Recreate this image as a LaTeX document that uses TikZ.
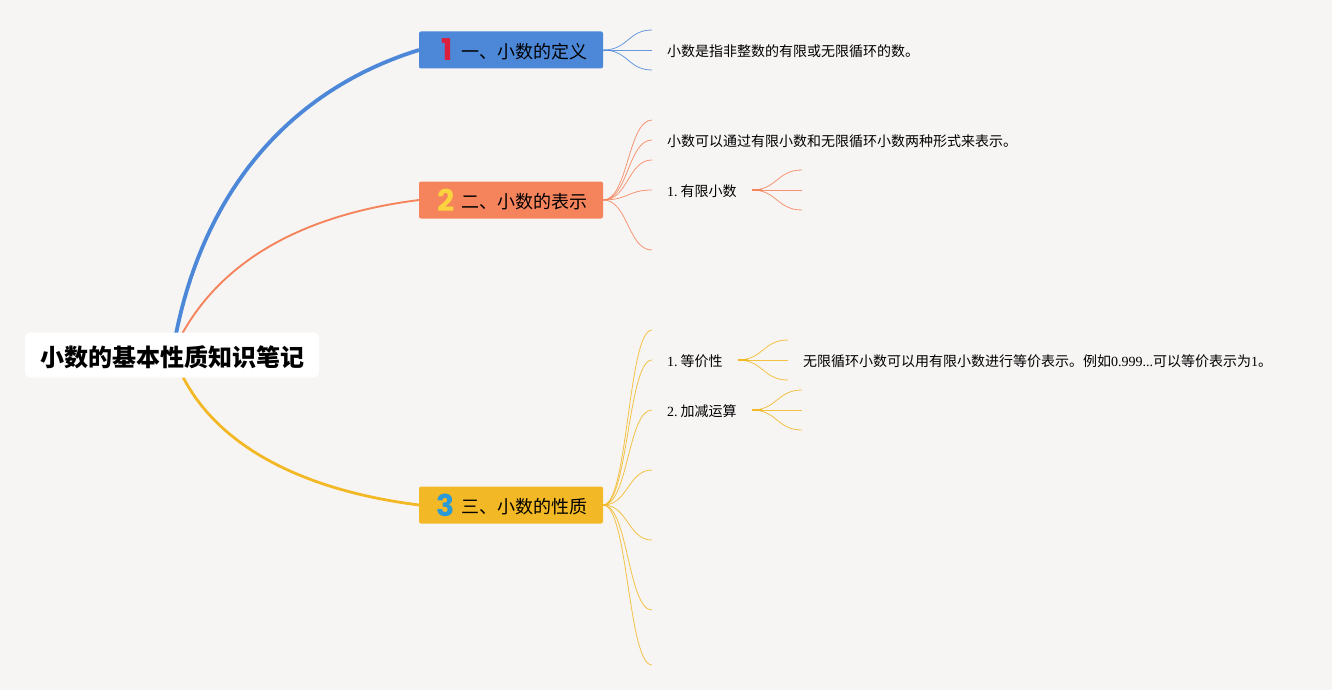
\documentclass[tikz,border=0pt]{standalone}
\usepackage{fontspec}
\setmainfont{Liberation Serif}
\newfontfamily\cjk{Noto Sans CJK SC}
\newfontfamily\numf{Poppins Bold}
\definecolor{bg}{HTML}{F7F5F4}
\definecolor{cblue}{HTML}{4D88D8}
\definecolor{corange}{HTML}{F5845D}
\definecolor{cyellow}{HTML}{F2B825}
\definecolor{bred}{HTML}{DC1F3C}
\definecolor{byellow}{HTML}{FAD33E}
\definecolor{bblue}{HTML}{2A9BD8}
\newcommand{\zh}[1]{{\cjk #1}}
\tikzset{
  x=1pt,y=-1pt,
  topic/.style={rounded corners=2pt,minimum width=184pt,minimum height=37pt,inner sep=0pt,text=black},
  toptext/.style={anchor=west,inner sep=0pt,font=\cjk\fontsize{18}{20}\selectfont},
  badge/.style={inner sep=0pt,font=\numf\fontsize{30}{30}\selectfont},
  leaf/.style={anchor=west,inner sep=0pt,text=black,font=\fontsize{14}{16}\selectfont},
  thick1/.style={line width=3.8pt},
  thick2/.style={line width=1.9pt},
  twig/.style={line width=0.8pt,opacity=0.85},
  stub/.style={line width=1.6pt},
}
\begin{document}
\begin{tikzpicture}
\useasboundingbox[fill=bg] (0,0) rectangle (1332,690);
\coordinate (rb) at (176,334);
\coordinate (ro) at (182,334);
\coordinate (ry) at (183,377);
\coordinate (t1w) at (419,50);
\coordinate (t2w) at (419,200);
\coordinate (t3w) at (419,505);
\draw[cblue,thick1] (rb) .. controls (205,190) and (290,90) .. (t1w);
\draw[corange,thick2] (ro) .. controls (222,262) and (300,215) .. (t2w);
\draw[cyellow,line width=2.8pt] (ry) .. controls (218,445) and (300,490) .. (t3w);
\node[fill=white,rounded corners=5pt,minimum width=294pt,minimum height=45pt,inner sep=0pt] (root) at (172,355) {};
\node[inner sep=0pt] (roott) at (172,357)
  {\cjk\bfseries\fontsize{24}{26}\selectfont 小数的基本性质知识笔记};
\node[topic,fill=cblue] (t1) at (511,50) {};
\node[topic,fill=corange] (t2) at (511,200) {};
\node[topic,fill=cyellow] (t3) at (511,505) {};
\node[toptext] (t1t) at (461,52) {一、小数的定义};
\node[toptext] (t2t) at (461,202) {二、小数的表示};
\node[toptext] (t3t) at (461,507) {三、小数的性质};
\node[badge,text=bred] (b1) at (447,50) {1};
\node[badge,text=byellow] (b2) at (446,200) {2};
\node[badge,text=bblue] (b3) at (446,505) {3};
\foreach \n/\y in {a1/30,a2/50,a3/70,b1e/120,b2e/140,b3e/160,b4e/190,b5e/250,c1e/330,c2e/360,c3e/410,c4e/470,c5e/540,c6e/610,c7e/665}
  \coordinate (\n) at (652,\y);
\begin{scope}[cblue,twig]
\foreach \e in {a1,a2,a3}
  \draw (t1.east) .. controls (628,50) and (628,50 |- \e) .. (\e);
\end{scope}
\node[leaf] (l1) at (667,51.5) {\zh{小数是指非整数的有限或无限循环的数。}};
\begin{scope}[corange,twig]
\foreach \e in {b1e,b2e,b3e,b4e,b5e}
  \draw (t2.east) .. controls (628,200) and (628,200 |- \e) .. (\e);
\end{scope}
\node[leaf] (l2) at (667,141.5) {\zh{小数可以通过有限小数和无限循环小数两种形式来表示。}};
\node[leaf] (l3) at (667,191.5) {1.\hspace{3pt}\zh{有限小数}};
\coordinate (s3) at (752,190);
\coordinate (s3m) at (762,190);
\foreach \n/\y in {d1/170,d2/190,d3/210} \coordinate (\n) at (802,\y);
\draw[corange,stub] (s3) -- (s3m);
\begin{scope}[corange,twig]
\foreach \e in {d1,d2,d3}
  \draw (s3) .. controls (777,190) and (777,190 |- \e) .. (\e);
\end{scope}
\begin{scope}[cyellow,twig]
\foreach \e in {c1e,c2e,c3e,c4e,c5e,c6e,c7e}
  \draw (t3.east) .. controls (628,505) and (628,505 |- \e) .. (\e);
\end{scope}
\node[leaf] (l4) at (667,361.5) {1.\hspace{3pt}\zh{等价性}};
\node[leaf] (l5) at (667,411.5) {2.\hspace{3pt}\zh{加减运算}};
\coordinate (s4) at (738,360);
\coordinate (s4m) at (748,360);
\foreach \n/\y in {e1/340,e2/360,e3/380} \coordinate (\n) at (788,\y);
\draw[cyellow,stub] (s4) -- (s4m);
\begin{scope}[cyellow,twig]
\foreach \e in {e1,e2,e3}
  \draw (s4) .. controls (763,360) and (763,360 |- \e) .. (\e);
\end{scope}
\node[leaf] (l6) at (803,361.5) {\zh{无限循环小数可以用有限小数进行等价表示。例如}0.999...\zh{可以等价表示为}1\zh{。}};
\coordinate (s5) at (752,410);
\coordinate (s5m) at (762,410);
\foreach \n/\y in {f1/390,f2/410,f3/430} \coordinate (\n) at (802,\y);
\draw[cyellow,stub] (s5) -- (s5m);
\begin{scope}[cyellow,twig]
\foreach \e in {f1,f2,f3}
  \draw (s5) .. controls (777,410) and (777,410 |- \e) .. (\e);
\end{scope}
\end{tikzpicture}
\end{document}
